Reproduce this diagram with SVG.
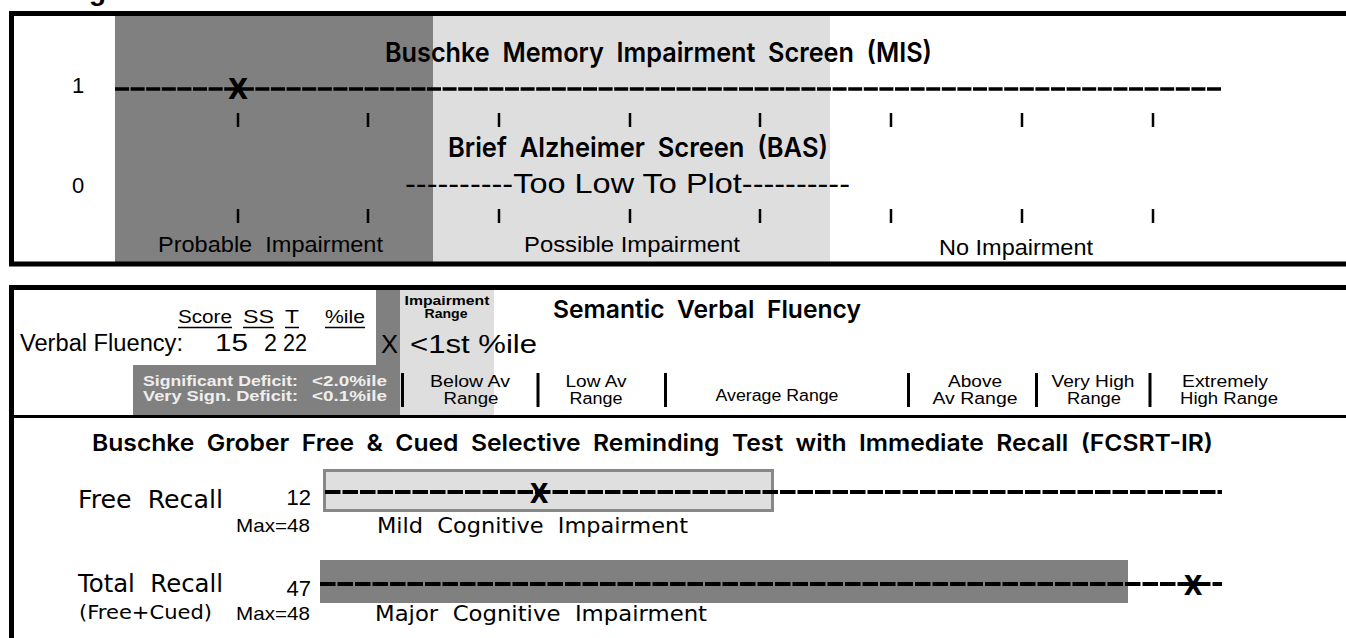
<svg xmlns="http://www.w3.org/2000/svg" width="1346" height="638" viewBox="0 0 1346 638">
<style>
.hel{font-family:"Liberation Sans",Arial,sans-serif;fill:#000;white-space:pre}
.helb{font-family:"Liberation Sans",Arial,sans-serif;font-weight:bold;fill:#000;white-space:pre}
.cond{font-family:Inter,"DejaVu Sans",sans-serif;font-weight:600;fill:#000;white-space:pre}
.xm{font-family:"DejaVu Sans Condensed","DejaVu Sans",sans-serif;font-stretch:condensed;font-weight:bold;fill:#000}
.gen{font-family:"DejaVu Sans",sans-serif;fill:#000;white-space:pre}
.border{stroke:#000;stroke-width:5;fill:none}
.dark{fill:#808080}
.light{fill:#dedede}
.tick{stroke:#000;stroke-width:2.5}
.dash1{stroke:#000;stroke-width:3.5;stroke-dasharray:14 1.6;fill:none}
.dash2{stroke:#000;stroke-width:4;stroke-dasharray:15.5 2;fill:none}
.sep{stroke:#000;stroke-width:3}
.ul{stroke:#000;stroke-width:1.5}
.mid{text-anchor:middle}
.end{text-anchor:end}
.def{font-family:"Liberation Sans",Arial,sans-serif;font-weight:bold;fill:#eeeeee;font-size:15px;white-space:pre}
</style>

<text class="helb" x="89" y="0" font-size="28">g</text>

<g id="mis-bas-panel">
  <rect class="dark" x="115" y="16" width="318" height="246"/>
  <rect class="light" x="433" y="16" width="397" height="246"/>
  <line class="border" x1="9" y1="13.5" x2="1346" y2="13.5"/>
  <line class="border" x1="11.5" y1="11" x2="11.5" y2="266"/>
  <line class="border" x1="9" y1="264" x2="1346" y2="264"/>
  <text class="cond" x="385" y="62" font-size="27.5" textLength="547" lengthAdjust="spacingAndGlyphs" xml:space="preserve">Buschke  Memory  Impairment  Screen  (MIS)</text>
  <text class="hel mid" x="78" y="93" font-size="22">1</text>
  <text class="hel mid" x="78" y="193" font-size="22">0</text>
  <text class="cond" x="448" y="157" font-size="27.5" textLength="380" lengthAdjust="spacingAndGlyphs" xml:space="preserve">Brief  Alzheimer  Screen  (BAS)</text>
  <text class="hel" x="405" y="193" font-size="28" textLength="445" lengthAdjust="spacingAndGlyphs">----------Too Low To Plot----------</text>
  <g id="ticks-top">
    <line class="tick" x1="238" y1="113" x2="238" y2="127"/>
    <line class="tick" x1="368" y1="113" x2="368" y2="127"/>
    <line class="tick" x1="499" y1="113" x2="499" y2="127"/>
    <line class="tick" x1="630" y1="113" x2="630" y2="127"/>
    <line class="tick" x1="760" y1="113" x2="760" y2="127"/>
    <line class="tick" x1="891" y1="113" x2="891" y2="127"/>
    <line class="tick" x1="1022" y1="113" x2="1022" y2="127"/>
    <line class="tick" x1="1153" y1="113" x2="1153" y2="127"/>
  </g>
  <g id="ticks-bottom">
    <line class="tick" x1="238" y1="209" x2="238" y2="223"/>
    <line class="tick" x1="368" y1="209" x2="368" y2="223"/>
    <line class="tick" x1="499" y1="209" x2="499" y2="223"/>
    <line class="tick" x1="630" y1="209" x2="630" y2="223"/>
    <line class="tick" x1="760" y1="209" x2="760" y2="223"/>
    <line class="tick" x1="891" y1="209" x2="891" y2="223"/>
    <line class="tick" x1="1022" y1="209" x2="1022" y2="223"/>
    <line class="tick" x1="1153" y1="209" x2="1153" y2="223"/>
  </g>
  <text class="hel" x="158" y="252" font-size="22" textLength="225" lengthAdjust="spacingAndGlyphs" xml:space="preserve">Probable  Impairment</text>
  <text class="hel" x="524" y="252" font-size="22" textLength="216" lengthAdjust="spacingAndGlyphs">Possible Impairment</text>
  <text class="hel" x="939" y="255" font-size="22" textLength="154" lengthAdjust="spacingAndGlyphs">No Impairment</text>
</g>

<g id="fluency-panel">
  <rect class="dark" x="376" y="290" width="24" height="125"/>
  <rect class="light" x="400" y="290" width="94" height="125"/>
  <rect class="dark" x="133" y="365" width="267" height="50"/>
  <line class="border" x1="9" y1="287.5" x2="1346" y2="287.5"/>
  <line class="border" x1="11.5" y1="285" x2="11.5" y2="638"/>
  <line class="sep" x1="9" y1="416.5" x2="1346" y2="416.5"/>
  <text class="hel" x="178" y="323" font-size="18" textLength="54" lengthAdjust="spacingAndGlyphs">Score</text>
  <text class="hel" x="243" y="323" font-size="18" textLength="31" lengthAdjust="spacingAndGlyphs">SS</text>
  <text class="hel" x="285" y="323" font-size="18" textLength="14" lengthAdjust="spacingAndGlyphs">T</text>
  <text class="hel" x="325" y="323" font-size="18" textLength="40" lengthAdjust="spacingAndGlyphs">%ile</text>
  <line class="ul" x1="178" y1="327.5" x2="232" y2="327.5"/>
  <line class="ul" x1="243" y1="327.5" x2="274" y2="327.5"/>
  <line class="ul" x1="285" y1="327.5" x2="299" y2="327.5"/>
  <line class="ul" x1="325" y1="327.5" x2="365" y2="327.5"/>
  <text class="hel" x="20" y="351" font-size="23" textLength="163" lengthAdjust="spacingAndGlyphs">Verbal Fluency:</text>
  <text class="hel" x="215" y="351" font-size="23" textLength="33" lengthAdjust="spacingAndGlyphs">15</text>
  <text class="hel" x="264" y="351" font-size="23" textLength="13" lengthAdjust="spacingAndGlyphs">2</text>
  <text class="hel" x="283" y="351" font-size="23" textLength="24" lengthAdjust="spacingAndGlyphs">22</text>
  <text class="helb mid" x="447" y="305" font-size="12" textLength="85" lengthAdjust="spacingAndGlyphs">Impairment</text>
  <text class="helb mid" x="446" y="318" font-size="12" textLength="43" lengthAdjust="spacingAndGlyphs">Range</text>
  <text class="hel" x="381" y="353" font-size="26" textLength="17" lengthAdjust="spacingAndGlyphs">X</text>
  <text class="hel" x="410" y="353" font-size="26" textLength="127" lengthAdjust="spacingAndGlyphs">&lt;1st %ile</text>
  <text class="cond" x="553" y="318" font-size="24.5" textLength="308" lengthAdjust="spacingAndGlyphs" xml:space="preserve">Semantic  Verbal  Fluency</text>
  <text class="def" x="143" y="386" textLength="155" lengthAdjust="spacingAndGlyphs">Significant Deficit:</text>
  <text class="def" x="312" y="386" textLength="75" lengthAdjust="spacingAndGlyphs">&lt;2.0%ile</text>
  <text class="def" x="143" y="401" textLength="155" lengthAdjust="spacingAndGlyphs">Very Sign. Deficit:</text>
  <text class="def" x="312" y="401" textLength="75" lengthAdjust="spacingAndGlyphs">&lt;0.1%ile</text>
  <g id="range-separators">
    <line class="sep" x1="402.5" y1="373" x2="402.5" y2="407"/>
    <line class="sep" x1="538" y1="373" x2="538" y2="407"/>
    <line class="sep" x1="665.5" y1="373" x2="665.5" y2="407"/>
    <line class="sep" x1="908.5" y1="373" x2="908.5" y2="407"/>
    <line class="sep" x1="1036.5" y1="373" x2="1036.5" y2="407"/>
    <line class="sep" x1="1150" y1="373" x2="1150" y2="407"/>
  </g>
  <text class="hel mid" x="470" y="387" font-size="16" textLength="80" lengthAdjust="spacingAndGlyphs">Below Av</text>
  <text class="hel mid" x="471" y="404" font-size="16" textLength="55" lengthAdjust="spacingAndGlyphs">Range</text>
  <text class="hel mid" x="596" y="387" font-size="16" textLength="61" lengthAdjust="spacingAndGlyphs">Low Av</text>
  <text class="hel mid" x="596" y="404" font-size="16" textLength="53" lengthAdjust="spacingAndGlyphs">Range</text>
  <text class="hel mid" x="777" y="401" font-size="16" textLength="123" lengthAdjust="spacingAndGlyphs">Average Range</text>
  <text class="hel mid" x="975" y="387" font-size="16" textLength="54" lengthAdjust="spacingAndGlyphs">Above</text>
  <text class="hel mid" x="975" y="404" font-size="16" textLength="85" lengthAdjust="spacingAndGlyphs">Av Range</text>
  <text class="hel mid" x="1093" y="387" font-size="16" textLength="83" lengthAdjust="spacingAndGlyphs">Very High</text>
  <text class="hel mid" x="1094" y="404" font-size="16" textLength="54" lengthAdjust="spacingAndGlyphs">Range</text>
  <text class="hel mid" x="1225" y="387" font-size="16" textLength="86" lengthAdjust="spacingAndGlyphs">Extremely</text>
  <text class="hel mid" x="1229" y="404" font-size="16" textLength="98" lengthAdjust="spacingAndGlyphs">High Range</text>
</g>

<g id="fcsrt-panel">
  <text class="cond" x="92" y="451" font-size="23" textLength="1121" lengthAdjust="spacingAndGlyphs" xml:space="preserve">Buschke  Grober  Free  &amp;  Cued  Selective  Reminding  Test  with  Immediate  Recall  (FCSRT-IR)</text>
  <g id="free-recall">
    <rect x="324.5" y="470.5" width="448" height="40" fill="#dfdfdf" stroke="#888" stroke-width="3"/>
    <text class="gen" x="78" y="508" font-size="24" textLength="145" lengthAdjust="spacingAndGlyphs" xml:space="preserve">Free  Recall</text>
    <text class="hel end" x="311" y="505" font-size="22">12</text>
    <text class="hel end" x="310" y="532" font-size="19" textLength="74" lengthAdjust="spacingAndGlyphs">Max=48</text>
    <text class="gen" x="377" y="533" font-size="21" textLength="311" lengthAdjust="spacingAndGlyphs" xml:space="preserve">Mild  Cognitive  Impairment</text>
  </g>
  <g id="total-recall">
    <rect class="dark" x="320" y="560" width="808" height="43"/>
    <text class="gen" x="78" y="592" font-size="24" textLength="145" lengthAdjust="spacingAndGlyphs" xml:space="preserve">Total  Recall</text>
    <text class="gen" x="79" y="619" font-size="19" textLength="133" lengthAdjust="spacingAndGlyphs">(Free+Cued)</text>
    <text class="hel end" x="311" y="596" font-size="22">47</text>
    <text class="hel end" x="310" y="620" font-size="19" textLength="74" lengthAdjust="spacingAndGlyphs">Max=48</text>
    <text class="gen" x="375" y="621" font-size="21" textLength="332" lengthAdjust="spacingAndGlyphs" xml:space="preserve">Major  Cognitive  Impairment</text>
  </g>
</g>

<g id="connectors">
  <line class="dash1" x1="115" y1="89" x2="1221" y2="89"/>
  <line class="dash2" x1="325" y1="492" x2="1222" y2="492"/>
  <line class="dash2" x1="320" y1="584" x2="1222" y2="584"/>
</g>

<g id="markers">
  <text class="xm mid" x="238" y="99" font-size="29">X</text>
  <text class="xm mid" x="539" y="503" font-size="27">X</text>
  <text class="xm mid" x="1193" y="595" font-size="27">X</text>
</g>
</svg>
